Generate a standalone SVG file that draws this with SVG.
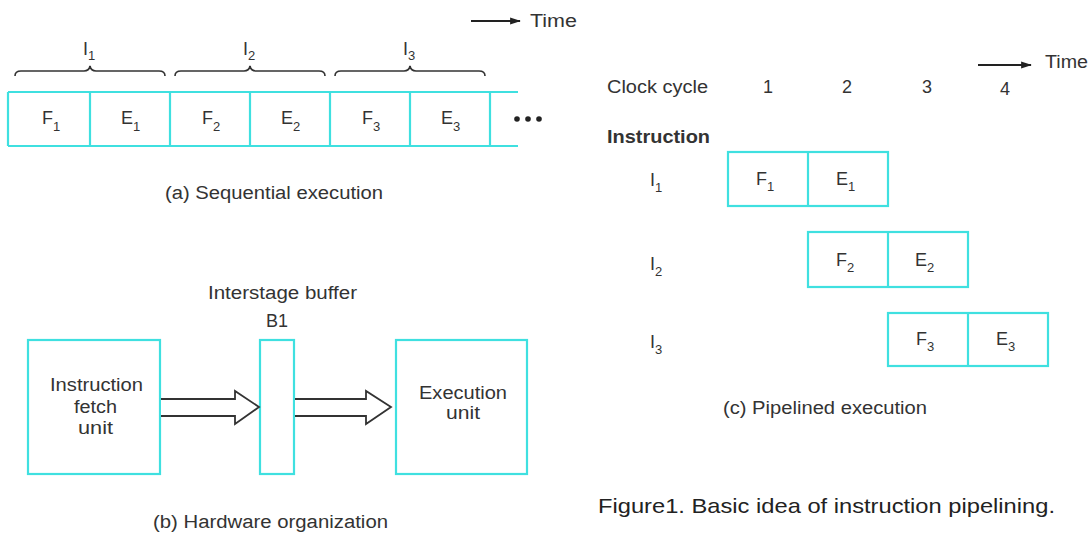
<svg xmlns="http://www.w3.org/2000/svg" width="1091" height="536" viewBox="0 0 1091 536">
<defs>
<style>
text{font-family:"Liberation Sans",Arial,sans-serif;fill:#333;}
.t{font-size:18px;}
.s{font-size:13px;}
.cap{font-size:18px;}
.box{fill:none;stroke:#3fe0e0;stroke-width:2.2;}
.ln{fill:none;stroke:#333;stroke-width:1.6;}
.harrow{fill:#fff;stroke:#333;stroke-width:1.8;stroke-linejoin:miter;}
</style>
<marker id="ah" viewBox="0 0 12 10" refX="11" refY="5" markerWidth="12" markerHeight="9" markerUnits="userSpaceOnUse" orient="auto"><path d="M0,1 L12,5 L0,9 z" fill="#222"/></marker>
</defs>
<rect width="1091" height="536" fill="#fff"/>

<!-- (a) Sequential execution -->
<g id="seq-time">
<line x1="471" y1="21" x2="520" y2="21" stroke="#222" stroke-width="1.8" marker-end="url(#ah)"/>
<text x="530" y="27" class="t" textLength="47" lengthAdjust="spacingAndGlyphs">Time</text>
</g>
<g id="braces" class="ln">
<path d="M15,76 Q15,71 21,71 L84,71 Q89,71 90,66 Q91,71 96,71 L159,71 Q165,71 165,76"/>
<path d="M175,76 Q175,71 181,71 L244,71 Q249,71 250,66 Q251,71 256,71 L319,71 Q325,71 325,76"/>
<path d="M335,76 Q335,71 341,71 L404,71 Q409,71 410,66 Q411,71 416,71 L479,71 Q485,71 485,76"/>
</g>
<g id="seq-labels">
<text x="83" y="55" class="t">I<tspan class="s" dy="5">1</tspan></text>
<text x="243" y="55" class="t">I<tspan class="s" dy="5">2</tspan></text>
<text x="403" y="55" class="t">I<tspan class="s" dy="5">3</tspan></text>
</g>
<g id="seq-row">
<line class="box" x1="8" y1="92" x2="518" y2="92"/>
<line class="box" x1="8" y1="146" x2="518" y2="146"/>
<line class="box" x1="8" y1="92" x2="8" y2="146"/>
<line class="box" x1="90" y1="92" x2="90" y2="146"/>
<line class="box" x1="170" y1="92" x2="170" y2="146"/>
<line class="box" x1="250" y1="92" x2="250" y2="146"/>
<line class="box" x1="330" y1="92" x2="330" y2="146"/>
<line class="box" x1="410" y1="92" x2="410" y2="146"/>
<line class="box" x1="490" y1="92" x2="490" y2="146"/>
<text x="42" y="124" class="t">F<tspan class="s" dy="7">1</tspan></text>
<text x="121" y="124" class="t">E<tspan class="s" dy="7">1</tspan></text>
<text x="202" y="124" class="t">F<tspan class="s" dy="7">2</tspan></text>
<text x="281" y="124" class="t">E<tspan class="s" dy="7">2</tspan></text>
<text x="362" y="124" class="t">F<tspan class="s" dy="7">3</tspan></text>
<text x="441" y="124" class="t">E<tspan class="s" dy="7">3</tspan></text>
<circle cx="517" cy="119" r="2.8" fill="#222"/>
<circle cx="528" cy="119" r="2.8" fill="#222"/>
<circle cx="539" cy="119" r="2.8" fill="#222"/>
</g>
<text x="165" y="199" class="cap" textLength="218" lengthAdjust="spacingAndGlyphs">(a) Sequential execution</text>

<!-- (b) Hardware organization -->
<g id="fetch-unit">
<rect class="box" x="28" y="340" width="132" height="134"/>
<text x="50" y="391" class="t" textLength="93" lengthAdjust="spacingAndGlyphs">Instruction</text>
<text x="74" y="413" class="t" textLength="43" lengthAdjust="spacingAndGlyphs">fetch</text>
<text x="78" y="434" class="t" textLength="35" lengthAdjust="spacingAndGlyphs">unit</text>
</g>
<g id="buffer-b1">
<rect class="box" x="260" y="340" width="34" height="134"/>
<text x="208" y="299" class="t" textLength="149" lengthAdjust="spacingAndGlyphs">Interstage buffer</text>
<text x="277" y="327" class="t" text-anchor="middle">B1</text>
</g>
<g id="execution-unit">
<rect class="box" x="396" y="340" width="131" height="134"/>
<text x="419" y="399" class="t" textLength="88" lengthAdjust="spacingAndGlyphs">Execution</text>
<text x="446" y="419" class="t" textLength="34" lengthAdjust="spacingAndGlyphs">unit</text>
</g>
<g id="connectors">
<path class="harrow" d="M161,399 L235,399 L235,391 L259,407 L235,424 L235,416 L161,416"/>
<path class="harrow" d="M295,399 L366,399 L366,391 L391,407 L366,424 L366,416 L295,416"/>
</g>
<text x="153" y="528" class="cap" textLength="235" lengthAdjust="spacingAndGlyphs">(b) Hardware organization</text>

<!-- (c) Pipelined execution -->
<g id="pipe-header">
<line x1="978" y1="65" x2="1031" y2="65" stroke="#222" stroke-width="1.8" marker-end="url(#ah)"/>
<text x="1045" y="68" class="cap" textLength="43" lengthAdjust="spacingAndGlyphs">Time</text>
<text x="607" y="93" class="cap" textLength="101" lengthAdjust="spacingAndGlyphs">Clock cycle</text>
<text x="768" y="93" class="cap" text-anchor="middle">1</text>
<text x="847" y="93" class="cap" text-anchor="middle">2</text>
<text x="927" y="93" class="cap" text-anchor="middle">3</text>
<text x="1005" y="95" class="cap" text-anchor="middle">4</text>
<text x="607" y="143" class="cap" font-weight="bold" textLength="103" lengthAdjust="spacingAndGlyphs">Instruction</text>
</g>
<g id="pipe-i1">
<text x="650" y="186" class="t">I<tspan class="s" dy="6">1</tspan></text>
<rect class="box" x="728" y="152" width="160" height="54"/>
<line class="box" x1="808" y1="152" x2="808" y2="206"/>
<text x="756" y="185" class="t">F<tspan class="s" dy="6">1</tspan></text>
<text x="836" y="185" class="t">E<tspan class="s" dy="6">1</tspan></text>
</g>
<g id="pipe-i2">
<text x="650" y="270" class="t">I<tspan class="s" dy="6">2</tspan></text>
<rect class="box" x="808" y="232" width="160" height="55"/>
<line class="box" x1="888" y1="232" x2="888" y2="287"/>
<text x="836" y="266" class="t">F<tspan class="s" dy="6">2</tspan></text>
<text x="915" y="266" class="t">E<tspan class="s" dy="6">2</tspan></text>
</g>
<g id="pipe-i3">
<text x="650" y="348" class="t">I<tspan class="s" dy="6">3</tspan></text>
<rect class="box" x="888" y="313" width="160" height="53"/>
<line class="box" x1="968" y1="313" x2="968" y2="366"/>
<text x="916" y="345" class="t">F<tspan class="s" dy="6">3</tspan></text>
<text x="996" y="345" class="t">E<tspan class="s" dy="6">3</tspan></text>
</g>
<text x="723" y="414" class="cap" textLength="204" lengthAdjust="spacingAndGlyphs">(c) Pipelined execution</text>

<text x="598" y="513" font-size="21" style="fill:#222" textLength="457" lengthAdjust="spacingAndGlyphs">Figure1. Basic idea of instruction pipelining.</text>
</svg>
